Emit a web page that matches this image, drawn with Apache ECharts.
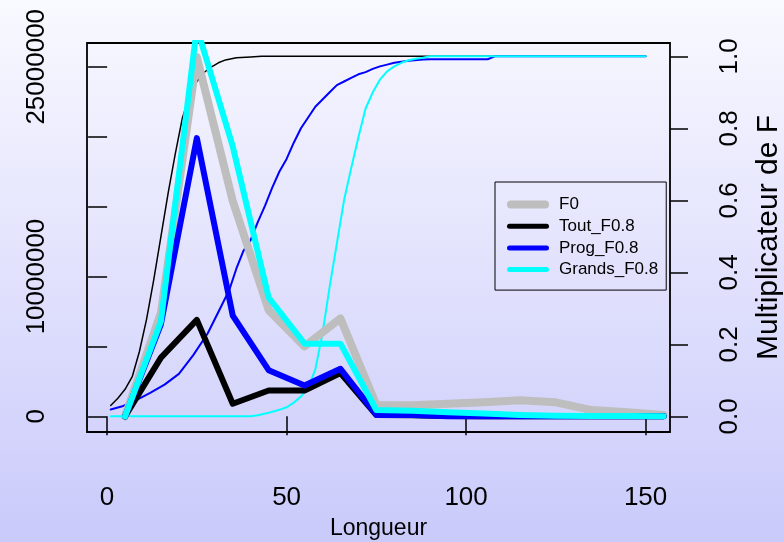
<!DOCTYPE html>
<html>
<head>
<meta charset="utf-8">
<script src="https://cdn.jsdelivr.net/npm/echarts@6/dist/echarts.min.js"></script>
<style>
html,body{margin:0;padding:0;}
#chart{width:784px;height:542px;}
</style>
</head>
<body>
<div id="chart"></div>
<script>
// Thick series: numbers by length class (left axis)
var lengths = [5,15,25,35,45,55,65,75,85,95,105,115,125,135,145,155];
var F0      = [0,7.4e6,25.7e6,15.4e6,7.6e6,5.0e6,7.0e6,0.8e6,0.8e6,0.9e6,1.0e6,1.15e6,1.0e6,0.45e6,0.3e6,0.1e6];
var Tout    = [0,4.2e6,6.9e6,0.9e6,1.85e6,1.85e6,3.1e6,0.1e6,0.08e6,0.02e6,0,0,0,0,0,0];
var Prog    = [0,6.6e6,19.9e6,7.2e6,3.3e6,2.2e6,3.4e6,0.1e6,0.1e6,0.01e6,0,0,0,0,0,0];
var Grands  = [0,6.8e6,27.8e6,19.3e6,8.5e6,5.2e6,5.2e6,0.45e6,0.4e6,0.3e6,0.2e6,0.1e6,0.05e6,0.03e6,0.02e6,0.01e6];

// Thin series: F multiplier by length (right axis)
var selToutX = [1,3,5,7,9,11,13,15,17,19,21,23,25,27,29,31,33,36,40,43,50,60,70,80,90,100,110,120,130,140,150];
var selToutY = [0.03,0.05,0.075,0.11,0.18,0.27,0.38,0.5,0.62,0.73,0.83,0.89,0.93,0.955,0.97,0.982,0.99,0.996,0.998,1,1,1,1,1,1,1,1,1,1,1,1];
var selProgX = [1,4,8,12,16,20,24,28,32,34,36,38,40,42,44,46,48,50,52,54,56,58,60,62,64,66,68,70,72,74,76,78,80,84,88,90,106,108,150];
var selProgY = [0.019,0.027,0.044,0.065,0.088,0.118,0.17,0.23,0.31,0.35,0.41,0.46,0.49,0.54,0.585,0.635,0.68,0.715,0.76,0.80,0.83,0.86,0.88,0.90,0.92,0.93,0.94,0.95,0.956,0.965,0.972,0.977,0.982,0.988,0.991,0.992,0.992,1.0,1.0];
var selGrandsX = [1,40,42,45,48,50,52,54,56,58,60,62,64,66,68,70,72,74,76,78,80,82,84,86,88,90,150];
var selGrandsY = [0,0,0.003,0.01,0.018,0.025,0.038,0.055,0.08,0.13,0.23,0.36,0.48,0.6,0.69,0.775,0.855,0.9,0.935,0.958,0.972,0.982,0.989,0.993,0.996,1.0,1.0];

// Tick labels
var xTicks = [0,50,100,150];
var yLeftTicks = [0,5e6,10e6,15e6,20e6,25e6];
var yLeftLabels = [0,10e6,25e6];
var yRightTicks = [0,0.2,0.4,0.6,0.8,1.0];

var seriesNames = ['F0','Tout_F0.8','Prog_F0.8','Grands_F0.8'];

function pairs(xs, ys){ return xs.map(function(x,i){ return [x, ys[i]]; }); }

var FONT = 'Liberation Sans, Arial, Helvetica, sans-serif';
var chart = echarts.init(document.getElementById('chart'), null, {renderer:'canvas'});

function thick(name, data, color, width){
  return {name:name, type:'line', yAxisIndex:0, data:pairs(lengths, data), symbol:'none',
    lineStyle:{color:color, width:width, cap:'round', join:'round'}, itemStyle:{color:color},
    clip:true, animation:false, z:3};
}
function thin(name, xs, ys, color, width){
  return {name:name, type:'line', yAxisIndex:1, data:pairs(xs, ys), symbol:'none',
    lineStyle:{color:color, width:width, cap:'round', join:'round'}, itemStyle:{color:color},
    clip:true, animation:false, z:2, silent:true};
}

var ICON_THICK = 'path://M4,0H38A4,4 0 0 1 38,8H4A4,4 0 0 1 4,0Z';
var ICON_THIN = 'path://M2.5,0H39.5A2.5,2.5 0 0 1 39.5,5H2.5A2.5,2.5 0 0 1 2.5,0Z';

var option = {
  animation:false,
  backgroundColor:{type:'linear', x:0, y:0, x2:0, y2:1,
    colorStops:[{offset:0, color:'#f9f9ff'},{offset:1, color:'#cacafb'}]},
  textStyle:{fontFamily:FONT, color:'#000'},
  grid:{left:87, right:114, top:43, bottom:110, show:true, borderColor:'#000', borderWidth:1.8,
    backgroundColor:'transparent', containLabel:false, outerBoundsMode:'none'},
  legend:{
    data:[
      {name:seriesNames[0], icon:ICON_THICK},
      {name:seriesNames[1], icon:ICON_THIN},
      {name:seriesNames[2], icon:ICON_THIN},
      {name:seriesNames[3], icon:ICON_THIN}
    ],
    orient:'vertical', left:495, top:182,
    itemWidth:42, itemHeight:12, itemGap:4.7, symbolKeepAspect:true,
    padding:[14,8,12,12],
    borderColor:'#000', borderWidth:1, backgroundColor:'transparent',
    textStyle:{fontFamily:FONT, fontSize:17, color:'#000', padding:[0,0,0,5]}
  },
  xAxis:{
    type:'value', min:-5.6, max:156.8,
    axisLine:{show:false},
    splitLine:{show:false},
    axisTick:{show:true, inside:false, length:19, customValues:xTicks, lineStyle:{color:'#000', width:1.5}},
    axisLabel:{customValues:xTicks, fontSize:26, fontFamily:FONT, color:'#000', margin:53,
      formatter:function(v){ return String(v); }},
    name:'Longueur', nameLocation:'middle', nameGap:85,
    nameTextStyle:{fontSize:23, fontFamily:FONT, color:'#000'}
  },
  yAxis:[{
    type:'value', position:'left', min:-1.12e6, max:26.7e6,
    axisLine:{show:false}, splitLine:{show:false},
    axisTick:{show:true, inside:false, length:19, customValues:yLeftTicks, lineStyle:{color:'#000', width:1.5}},
    axisLabel:{customValues:yLeftLabels, rotate:90, fontSize:26, fontFamily:FONT, color:'#000', margin:37,
      formatter:function(v){ return String(Math.round(v)); }}
  },{
    type:'value', position:'right', min:-0.0436, max:1.037,
    axisLine:{show:false}, splitLine:{show:false},
    axisTick:{show:true, inside:false, length:18, customValues:yRightTicks, lineStyle:{color:'#000', width:1.5}},
    axisLabel:{customValues:yRightTicks, rotate:90, fontSize:26, fontFamily:FONT, color:'#000', margin:47,
      formatter:function(v){ return v.toFixed(1); }},
    name:'Multiplicateur de F', nameLocation:'middle', nameGap:84, nameRotate:90,
    nameTextStyle:{fontSize:30, fontFamily:FONT, color:'#000'}
  }],
  series:[
    thin('sel_Tout', selToutX, selToutY, '#000000', 1.5),
    thin('sel_Prog', selProgX, selProgY, '#0000ff', 2),
    thin('sel_Grands', selGrandsX, selGrandsY, '#00ffff', 2),
    thick('F0', F0, '#bebebe', 8),
    thick('Tout_F0.8', Tout, '#000000', 6),
    thick('Prog_F0.8', Prog, '#0000ff', 6),
    thick('Grands_F0.8', Grands, '#00ffff', 6)
  ]
};
chart.setOption(option);
</script>
</body>
</html>
